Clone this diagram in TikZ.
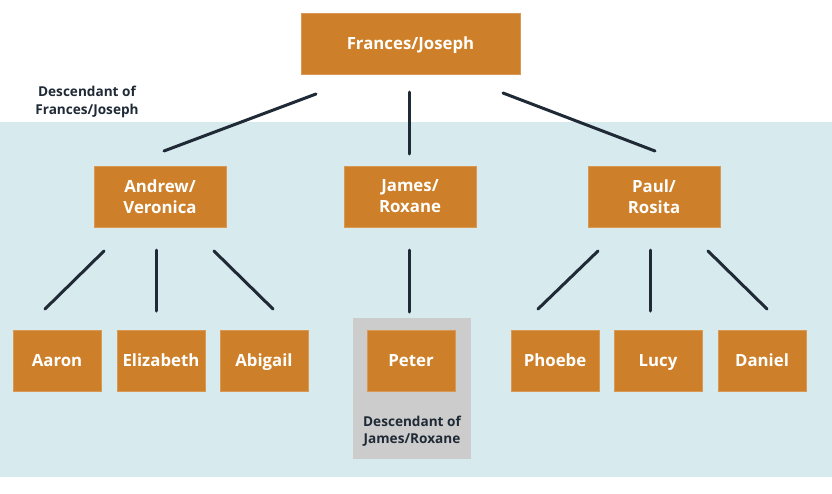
\documentclass[tikz,border=0pt]{standalone}
\usepackage{fontspec}
\setmainfont{Open Sans}
\definecolor{boxor}{HTML}{CD8029}
\definecolor{bgblue}{HTML}{D7EBEE}
\definecolor{bggray}{HTML}{CCCCCC}
\definecolor{ink}{HTML}{1F2A36}
\tikzset{
  person/.style={draw=boxor!80!white, line width=0.6pt, fill=boxor, text=white, font=\bfseries\fontsize{16.8}{21}\selectfont, align=center, inner sep=0pt, minimum height=61pt},
  small/.style={person, minimum width=88pt, text height=12pt, text depth=0pt},
  mid/.style={person, minimum width=132pt},
  link/.style={draw=ink, line width=3pt, line cap=round},
  note/.style={text=ink, font=\bfseries\fontsize{13.6}{17.5}\selectfont, align=center, inner sep=0pt}
}
\begin{document}
\begin{tikzpicture}[x=1pt,y=-1pt]
\useasboundingbox (0,0) rectangle (832,493);
\fill[bgblue] (0,122) rectangle (832,477);
\fill[bggray] (353,318) rectangle (471,459);

\node[person, minimum width=219pt, text height=12pt, text depth=0pt] (fj) at (410.5,43.5) {Frances/Joseph};
\node[note] (fjnote) at (87,102) {Descendant of\\Frances/Joseph};

\node[mid] (av) at (160,196.5) {Andrew/\\Veronica};
\node[mid] (jr) at (410,196.5) {James/\\Roxane};
\node[mid] (pr) at (654,196.5) {Paul/\\Rosita};

\node[small] (aaron) at (57,360.5) {Aaron};
\node[small] (eliz) at (161,360.5) {Elizabeth};
\node[small] (abig) at (264,360.5) {Abigail};
\node[small] (peter) at (411,360.5) {Peter};
\node[small] (phoebe) at (555,360.5) {Phoebe};
\node[small] (lucy) at (658,360.5) {Lucy};
\node[small] (daniel) at (762,360.5) {Daniel};
\node[note] (jrnote) at (412,431) {Descendant of\\James/Roxane};

% connector end points
\coordinate (fjA) at (316,94);  \coordinate (avT) at (164,151);
\coordinate (fjB) at (409,92);  \coordinate (jrT) at (409,154);
\coordinate (fjC) at (503,93);  \coordinate (prT) at (655,151);

\coordinate (avA) at (104,251); \coordinate (aaT) at (45,309);
\coordinate (avB) at (156,250); \coordinate (elT) at (156,311);
\coordinate (avC) at (214,251); \coordinate (abT) at (273,309);

\coordinate (jrA) at (409,250); \coordinate (peT) at (409,312);

\coordinate (prA) at (598,251); \coordinate (phT) at (538,309);
\coordinate (prB) at (650,250); \coordinate (luT) at (650,311);
\coordinate (prC) at (708,251); \coordinate (daT) at (767,309);

\draw[link] (fjA) -- (avT);
\draw[link] (fjB) -- (jrT);
\draw[link] (fjC) -- (prT);
\draw[link] (avA) -- (aaT);
\draw[link] (avB) -- (elT);
\draw[link] (avC) -- (abT);
\draw[link] (jrA) -- (peT);
\draw[link] (prA) -- (phT);
\draw[link] (prB) -- (luT);
\draw[link] (prC) -- (daT);
\end{tikzpicture}
\end{document}
